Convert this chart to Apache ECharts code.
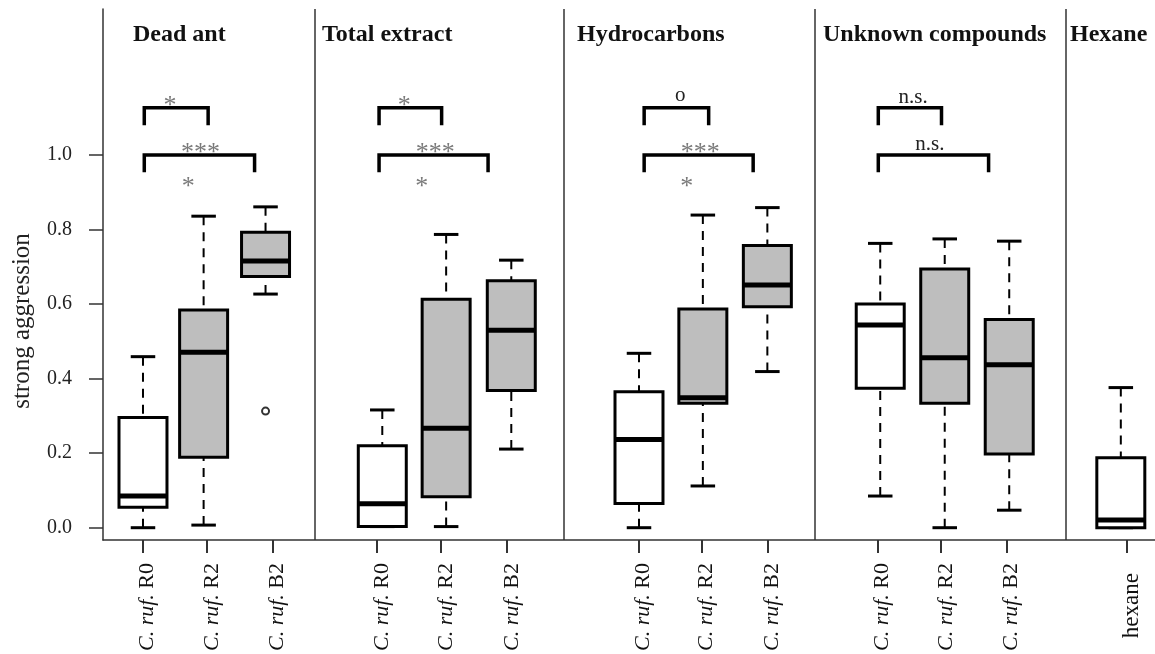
<!DOCTYPE html>
<html>
<head>
<meta charset="utf-8">
<script src="https://cdn.jsdelivr.net/npm/echarts@6/dist/echarts.min.js"></script>
<style>
  html, body { margin: 0; padding: 0; background: #fff; }
  #chart { width: 1155px; height: 654px; }
</style>
</head>
<body>
<div id="chart"></div>
<script>
// ---- panel titles ----
const panelTitles = ['Dead ant', 'Total extract', 'Hydrocarbons', 'Unknown compounds', 'Hexane'];
const titleLeft = [133, 322, 577, 823, 1070];

// ---- x axis: tick positions and names ----
const tickPos = [1.00, 2.00, 3.02, 4.64, 5.63, 6.65, 8.69, 9.67, 10.69, 12.40, 13.38, 14.40, 16.26];
const tickNames = [
  'C. ruf. R0', 'C. ruf. R2', 'C. ruf. B2',
  'C. ruf. R0', 'C. ruf. R2', 'C. ruf. B2',
  'C. ruf. R0', 'C. ruf. R2', 'C. ruf. B2',
  'C. ruf. R0', 'C. ruf. R2', 'C. ruf. B2',
  'hexane'
];

// ---- y axis ticks ----
const yTicks = [0.0, 0.2, 0.4, 0.6, 0.8, 1.0];

// ---- boxes: position and five-number summary ----
const boxPos      = [1.01, 1.95, 2.91, 4.72, 5.71, 6.72, 8.70, 9.69, 10.69, 12.44, 13.44, 14.44, 16.17];
const lowWhisker  = [0.000, 0.007, 0.627, 0.003, 0.003, 0.211, 0.000, 0.112, 0.419, 0.085, 0.000, 0.047, 0.000];
const lowerQuart  = [0.055, 0.189, 0.674, 0.003, 0.083, 0.368, 0.065, 0.334, 0.593, 0.374, 0.334, 0.198, 0.000];
const medians     = [0.085, 0.471, 0.716, 0.064, 0.267, 0.530, 0.237, 0.349, 0.651, 0.544, 0.456, 0.437, 0.021];
const upperQuart  = [0.296, 0.584, 0.793, 0.220, 0.613, 0.663, 0.365, 0.587, 0.757, 0.600, 0.694, 0.559, 0.188];
const highWhisker = [0.459, 0.836, 0.861, 0.316, 0.787, 0.718, 0.468, 0.839, 0.859, 0.763, 0.775, 0.769, 0.376];
const boxShaded   = [0, 1, 1, 0, 1, 1, 0, 1, 1, 0, 1, 1, 0];

// ---- outliers ----
const outlierX = [2.91];
const outlierY = [0.313];

// ---- panel separators ----
const separators = [3.68, 7.54, 11.43, 15.31];

// ---- comparison brackets ----
const bracketFrom = [1.03, 1.03, 4.67, 4.67, 8.78, 8.78, 12.41, 12.41];
const bracketTo   = [2.02, 2.74, 5.64, 6.36, 9.78, 10.47, 13.39, 14.12];
const bracketTop  = [1.127, 1.000, 1.127, 1.000, 1.127, 1.000, 1.127, 1.000];
const bracketFoot = [1.080, 0.954, 1.080, 0.954, 1.080, 0.954, 1.080, 0.954];

// ---- significance marks ----
const markX    = [1.43, 1.90, 1.71, 5.06, 5.54, 5.33, 9.34, 9.65, 9.44, 12.95, 13.21];
const markY    = [1.130, 1.006, 0.915, 1.130, 1.006, 0.915, 1.160, 1.006, 0.915, 1.154, 1.029];
const markText = ['*', '***', '*', '*', '***', '*', 'o', '***', '*', 'n.s.', 'n.s.'];

// ---- drawing constants ----
const SERIF = 'Liberation Serif';
const BOX_HALF = 0.372;   // half box width, x units
const CAP_HALF = 0.19;    // half whisker-cap width, x units
const AXIS_COLOR = '#333';

const boxData = boxPos.map((p, i) => [p, lowWhisker[i], lowerQuart[i], medians[i], upperQuart[i], highWhisker[i], boxShaded[i]]);
const bracketData = bracketFrom.map((f, i) => [f, bracketTo[i], bracketTop[i], bracketFoot[i]]);
const markData = markX.map((x, i) => [x, markY[i], markText[i]]);

function renderBox(params, api) {
  const x = api.value(0);
  const cx = api.coord([x, 0])[0];
  const left = api.coord([x - BOX_HALF, 0])[0];
  const right = api.coord([x + BOX_HALF, 0])[0];
  const capL = api.coord([x - CAP_HALF, 0])[0];
  const capR = api.coord([x + CAP_HALF, 0])[0];
  const yv = k => api.coord([x, api.value(k)])[1];
  const yLow = yv(1), yQ1 = yv(2), yMed = yv(3), yQ3 = yv(4), yHigh = yv(5);
  const fill = api.value(6) ? '#bebebe' : '#ffffff';
  const dash = { stroke: '#000', lineWidth: 2, lineDash: [9, 7] };
  const solid = w => ({ stroke: '#000', lineWidth: w });
  return {
    type: 'group',
    children: [
      { type: 'line', shape: { x1: cx, y1: yHigh, x2: cx, y2: yQ3 }, style: dash },
      { type: 'line', shape: { x1: cx, y1: yLow, x2: cx, y2: yQ1 }, style: dash },
      { type: 'line', shape: { x1: capL, y1: yHigh, x2: capR, y2: yHigh }, style: solid(3) },
      { type: 'line', shape: { x1: capL, y1: yLow, x2: capR, y2: yLow }, style: solid(3) },
      { type: 'rect', shape: { x: left, y: yQ3, width: right - left, height: yQ1 - yQ3 },
        style: { fill: fill, stroke: '#000', lineWidth: 3 } },
      { type: 'line', shape: { x1: left, y1: yMed, x2: right, y2: yMed }, style: solid(5) }
    ]
  };
}

function renderBracket(params, api) {
  const a = api.coord([api.value(0), api.value(2)]);
  const b = api.coord([api.value(1), api.value(2)]);
  const foot = api.coord([0, api.value(3)])[1];
  return {
    type: 'polyline',
    shape: { points: [[a[0], foot], a, b, [b[0], foot]] },
    style: { stroke: '#000', lineWidth: 3.5, fill: null, lineJoin: 'miter' }
  };
}

function renderMark(params, api) {
  const p = api.coord([api.value(0), api.value(1)]);
  const txt = markData[params.dataIndex][2];
  const isStar = txt.indexOf('*') >= 0;
  return {
    type: 'text',
    x: p[0], y: p[1],
    style: {
      text: txt,
      fill: isStar ? '#7a7a7a' : '#222',
      font: (isStar ? '26px ' : '21px ') + SERIF,
      align: 'center',
      verticalAlign: 'middle'
    }
  };
}

function tickLabel(v) {
  let idx = 0, best = Infinity;
  tickPos.forEach((t, i) => { const d = Math.abs(t - v); if (d < best) { best = d; idx = i; } });
  const name = tickNames[idx];
  const sp = 'C. ruf.';
  if (name.indexOf(sp) === 0) return '{i|' + sp + '}{r|' + name.slice(sp.length) + '}';
  return '{h|' + name + '}';
}

const chart = echarts.init(document.getElementById('chart'), null, { renderer: 'canvas' });
chart.setOption({
  animation: false,
  backgroundColor: '#fff',
  textStyle: { fontFamily: SERIF },
  title: panelTitles.map((t, i) => ({
    text: t, left: titleLeft[i], top: 23, padding: 0,
    textStyle: { fontFamily: SERIF, fontWeight: 'bold', fontSize: 24, color: '#111' }
  })),
  grid: { left: 103, right: 0, top: 9, bottom: 114, containLabel: false, outerBoundsMode: 'none' },
  xAxis: {
    type: 'value', min: 0.39, max: 16.70,
    splitLine: { show: false },
    axisLine: { show: true, onZero: false, lineStyle: { color: AXIS_COLOR, width: 1.5 } },
    axisTick: { show: true, customValues: tickPos, length: 13, lineStyle: { color: AXIS_COLOR, width: 2 } },
    axisLabel: {
      customValues: tickPos, rotate: 90, margin: 23, color: '#111',
      padding: [10, 0, 0, 0],
      formatter: tickLabel,
      rich: {
        i: { fontFamily: SERIF, fontStyle: 'italic', fontSize: 22, color: '#111' },
        r: { fontFamily: SERIF, fontSize: 22, color: '#111' },
        h: { fontFamily: SERIF, fontSize: 23, color: '#111', padding: [0, 10, 0, 0] }
      }
    }
  },
  yAxis: {
    type: 'value', min: -0.033, max: 1.392,
    splitLine: { show: false },
    axisLine: { show: true, onZero: false, lineStyle: { color: AXIS_COLOR, width: 1.5 } },
    axisTick: { show: true, customValues: yTicks, length: 14, lineStyle: { color: AXIS_COLOR, width: 1.5 } },
    axisLabel: {
      customValues: yTicks, margin: 31, fontSize: 20, color: '#222', fontFamily: SERIF,
      formatter: v => v.toFixed(1)
    },
    name: 'strong aggression',
    nameLocation: 'middle',
    nameGap: 68,
    nameTextStyle: { fontFamily: SERIF, fontSize: 25, color: '#222', padding: [0, 93, 0, 0] }
  },
  series: [
    {
      type: 'custom', name: 'boxes', data: boxData, renderItem: renderBox,
      encode: { x: 0, y: [1, 2, 3, 4, 5] }, silent: true,
      markLine: {
        silent: true, symbol: ['none', 'none'], label: { show: false },
        lineStyle: { color: AXIS_COLOR, width: 1.5, type: 'solid' },
        data: separators.map(v => ({ xAxis: v }))
      }
    },
    {
      type: 'scatter', name: 'outliers',
      data: outlierX.map((x, i) => [x, outlierY[i]]),
      symbol: 'circle', symbolSize: 7,
      itemStyle: { color: '#fff', borderColor: '#000', borderWidth: 2 }, silent: true
    },
    {
      type: 'custom', name: 'brackets', data: bracketData, renderItem: renderBracket,
      encode: { x: [0, 1], y: [2, 3] }, silent: true
    },
    {
      type: 'custom', name: 'marks', data: markData.map(d => [d[0], d[1]]), renderItem: renderMark,
      encode: { x: 0, y: 1 }, silent: true
    }
  ]
});
</script>
</body>
</html>
